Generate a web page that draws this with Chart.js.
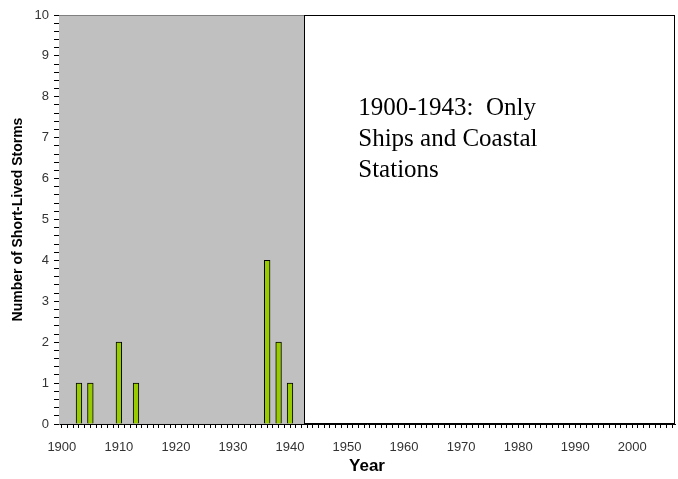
<!DOCTYPE html>
<html>
<head>
<meta charset="utf-8">
<script src="https://cdn.jsdelivr.net/npm/chart.js@4"></script>
<style>
  body { margin: 0; background: #fff; }
  #wrap { width: 678px; height: 479px; }
</style>
</head>
<body>
<div id="wrap"><canvas id="stormChart"></canvas></div>
<script>
// Year range shown on the x axis
const firstYear = 1900;
const lastYear = 2007;

// Years that had short-lived storms and their counts
const stormYears = [1903, 1905, 1910, 1913, 1936, 1938, 1940];
const stormCounts = [1, 1, 2, 1, 4, 2, 1];

// Shaded era (ships and coastal stations only)
const shadedUntil = 1942;
const noteLines = ['1900-1943:  Only', 'Ships and Coastal', 'Stations'];

const years = [];
for (let y = firstYear; y <= lastYear; y++) years.push(String(y));
const counts = years.map(y => {
    const i = stormYears.indexOf(Number(y));
    return i >= 0 ? stormCounts[i] : null;
});

// Gray era background + white box with the note
const eraPlugin = {
    id: 'era',
    beforeDatasetsDraw(chart) {
        const { ctx, chartArea: a, scales: { x } } = chart;
        const half = (x.getPixelForValue(1) - x.getPixelForValue(0)) / 2;
        const split = x.getPixelForValue(shadedUntil - firstYear) + half;
        ctx.save();
        ctx.fillStyle = '#c0c0c0';
        ctx.fillRect(a.left, a.top, split - a.left, a.bottom - a.top);
        ctx.strokeStyle = '#808080';
        ctx.lineWidth = 1;
        ctx.beginPath();
        ctx.moveTo(a.left, a.top + 0.5);
        ctx.lineTo(split, a.top + 0.5);
        ctx.stroke();
        ctx.fillStyle = '#ffffff';
        ctx.fillRect(split, a.top, a.right - split, a.bottom - a.top);
        ctx.strokeStyle = '#000000';
        ctx.strokeRect(Math.round(split) + 0.5, a.top + 0.5, a.right - Math.round(split) - 1, a.bottom - a.top - 1);
        ctx.restore();
    },
    afterDraw(chart) {
        const { ctx, chartArea: a, scales: { x } } = chart;
        const half = (x.getPixelForValue(1) - x.getPixelForValue(0)) / 2;
        const split = x.getPixelForValue(shadedUntil - firstYear) + half;
        ctx.save();
        ctx.fillStyle = '#000';
        ctx.font = '25px "Liberation Serif", "Times New Roman", serif';
        ctx.textBaseline = 'alphabetic';
        noteLines.forEach((line, i) => {
            ctx.fillText(line, split + 54, a.top + 100 + i * 31);
        });
        ctx.restore();
    }
};

const config = {
    type: 'bar',
    data: {
        labels: years,
        datasets: [{
            label: 'Short-Lived Storms',
            data: counts,
            backgroundColor: '#99cc00',
            borderColor: '#000000',
            borderWidth: 1,
            barPercentage: 1.0,
            categoryPercentage: 1.0
        }]
    },
    options: {
        responsive: true,
        maintainAspectRatio: false,
        animation: false,
        layout: { padding: { top: 15, right: 3, left: 0, bottom: 0 } },
        plugins: { legend: { display: false }, tooltip: { enabled: false } },
        scales: {
            x: {
                afterFit(scale) {
                    scale.height = 55;
                    scale.paddingLeft = 0;
                    scale.paddingRight = 0;
                },
                grid: { display: true, drawOnChartArea: false, drawTicks: true, tickLength: 4, color: '#000', offset: false },
                border: { display: true, color: '#000', width: 1 },
                ticks: {
                    autoSkip: false,
                    maxRotation: 0,
                    padding: 12,
                    color: '#333',
                    font: { family: '"Liberation Sans", Arial, sans-serif', size: 13 },
                    callback(v) {
                        const y = firstYear + v;
                        return y % 10 === 0 ? String(y) : '';
                    }
                },
                title: {
                    display: true,
                    text: 'Year',
                    color: '#000',
                    padding: { top: 0, bottom: 2 },
                    font: { family: '"Liberation Sans", Arial, sans-serif', size: 17, weight: 'bold' }
                }
            },
            y: {
                min: 0,
                max: 10,
                afterFit(scale) { scale.width = 59; },
                grid: { display: true, drawOnChartArea: false, drawTicks: true, tickLength: 5, color: '#000' },
                border: { display: true, color: '#808080', width: 1 },
                ticks: {
                    stepSize: 0.2,
                    autoSkip: false,
                    padding: 5,
                    color: '#333',
                    font: { family: '"Liberation Sans", Arial, sans-serif', size: 13 },
                    callback(v) {
                        const r = Math.round(v);
                        return Math.abs(v - r) < 1e-6 ? String(r) : '';
                    }
                },
                title: {
                    display: true,
                    text: 'Number of Short-Lived Storms',
                    color: '#000',
                    padding: { top: 10, bottom: 0 },
                    font: { family: '"Liberation Sans", Arial, sans-serif', size: 14, weight: 'bold' }
                }
            }
        }
    },
    plugins: [eraPlugin]
};

document.addEventListener('DOMContentLoaded', function() {
    const ctx = document.getElementById('stormChart').getContext('2d');
    new Chart(ctx, config);
});
</script>
</body>
</html>
